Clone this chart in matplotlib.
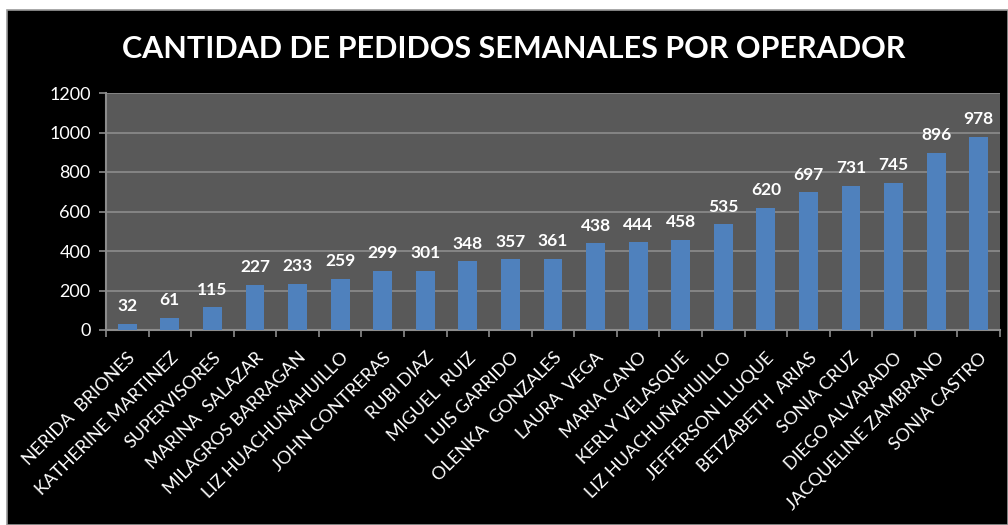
import matplotlib
matplotlib.use("Agg")
import matplotlib.pyplot as plt
from matplotlib.patches import Rectangle

# Pedidos semanales por operador
operadores = ["NERIDA  BRIONES", "KATHERINE MARTINEZ", "SUPERVISORES", "MARINA  SALAZAR",
              "MILAGROS BARRAGAN", "LIZ HUACHUÑAHUILLO", "JOHN CONTRERAS", "RUBI DIAZ",
              "MIGUEL  RUIZ", "LUIS GARRIDO", "OLENKA  GONZALES", "LAURA  VEGA",
              "MARIA CANO", "KERLY VELASQUE", "LIZ HUACHUÑAHUILLO", "JEFFERSON LLUQUE",
              "BETZABETH  ARIAS", "SONIA CRUZ", "DIEGO ALVARADO", "JACQUELINE ZAMBRANO",
              "SONIA CASTRO"]
pedidos = [32, 61, 115, 227, 233, 259, 299, 301, 348, 357, 361, 438, 444, 458,
           535, 620, 697, 731, 745, 896, 978]
yticks = [0, 200, 400, 600, 800, 1000, 1200]

plt.rcParams['font.family'] = ['Lato', 'DejaVu Sans']

W, H = 1008, 525
fig = plt.figure(figsize=(W / 100, H / 100), dpi=100, facecolor="white")

# fondo negro del grafico
fondo = Rectangle((7 / W, 0), 1 - 7 / W, (H - 10) / H, transform=fig.transFigure,
                  facecolor="black", edgecolor="#9a9a9a", linewidth=1.2, zorder=-5)
fig.add_artist(fondo)

ax = fig.add_axes([106 / W, (H - 330) / H, (1000 - 106) / W, (330 - 93) / H])
ax.set_facecolor("#595959")

x = range(len(pedidos))
bars = ax.bar(x, pedidos, width=0.44, color="#4F81BD", zorder=3)
for b, v in zip(bars, pedidos):
    ax.annotate(str(v), (b.get_x() + b.get_width() / 2, v), xytext=(0, 7),
                textcoords="offset points", ha="center", va="bottom",
                color="white", fontsize=12.5, fontweight="bold", zorder=4)

ax.set_xlim(-0.5, len(pedidos) - 0.5)
ax.set_ylim(0, 1200)
ax.set_yticks(yticks)
ax.set_yticklabels([str(t) for t in yticks], color="white", fontsize=13)
ax.yaxis.grid(True, color="#8c8c8c", linewidth=1.2, zorder=0)
ax.set_axisbelow(True)

ax.set_xticks([i - 0.5 for i in range(len(pedidos) + 1)], minor=False)
ax.set_xticklabels([])
ax.set_xticks(list(x), minor=True)
ax.set_xticklabels(operadores, minor=True, rotation=45, ha="right",
                   rotation_mode="anchor", color="white", fontsize=13)
ax.tick_params(axis="x", which="major", length=5, color="#8c8c8c", width=1.2)
ax.tick_params(axis="x", which="minor", length=0, pad=14)
ax.tick_params(axis="y", length=5, color="#8c8c8c", width=1.2, pad=6)

for side in ["top", "right"]:
    ax.spines[side].set_visible(False)
for side in ["left", "bottom"]:
    ax.spines[side].set_color("#8c8c8c")
    ax.spines[side].set_linewidth(1.5)

fig.text(514 / W, 1 - 49 / H, "CANTIDAD DE PEDIDOS SEMANALES POR OPERADOR",
         ha="center", va="center", color="white", fontsize=22, fontweight="bold")

fig.savefig("out.png", dpi=100, facecolor="white")
